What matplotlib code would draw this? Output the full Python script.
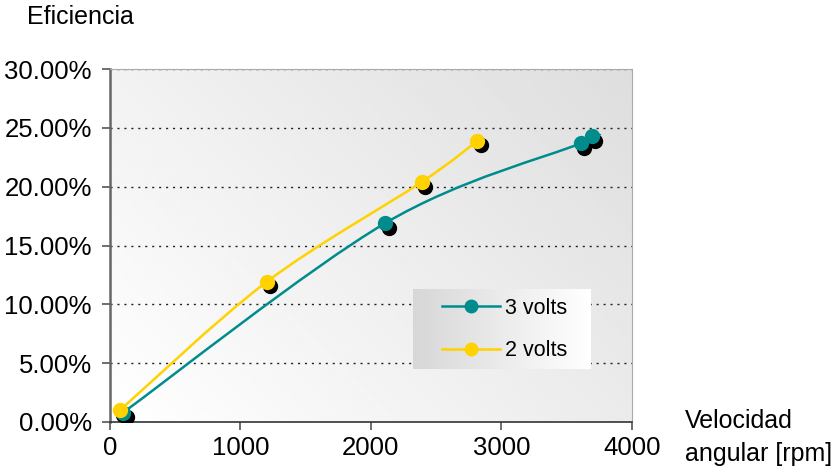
import numpy as np
import matplotlib
matplotlib.use("Agg")
import matplotlib.pyplot as plt
import matplotlib.transforms as mtransforms
from matplotlib.path import Path
from matplotlib.patches import PathPatch
from matplotlib.lines import Line2D

plt.rcParams["font.family"] = ["Liberation Sans", "DejaVu Sans"]

# data
rpm_3v = [100, 2110, 3610, 3695]
eff_3v = [0.008, 0.169, 0.237, 0.243]
rpm_2v = [76, 1200, 2390, 2817]
eff_2v = [0.010, 0.119, 0.204, 0.239]

series_names = ["3 volts", "2 volts"]
y_ticks = [0.0, 0.05, 0.10, 0.15, 0.20, 0.25, 0.30]
x_ticks = [0, 1000, 2000, 3000, 4000]

TEAL = "#008c8c"
YELLOW = "#ffd200"


def smooth_path(xs, ys):
    # bezier segments through the points, like Excel's smoothed line
    pts = np.column_stack([xs, ys]).astype(float)
    n = len(pts)
    verts = [pts[0]]
    codes = [Path.MOVETO]
    for i in range(n - 1):
        p0 = pts[max(i - 1, 0)]
        p1 = pts[i]
        p2 = pts[i + 1]
        p3 = pts[min(i + 2, n - 1)]
        c1 = p1 + (p2 - p0) / 6
        c2 = p2 - (p3 - p1) / 6
        verts += [c1, c2, p2]
        codes += [Path.CURVE4] * 3
    return Path(verts, codes)


fig = plt.figure(figsize=(8.36, 4.75), dpi=100)
ax = fig.add_axes([0.1316, 0.1116, 0.624, 0.743])

# gradient background: white bottom-left to grey top-right
gx, gy = np.meshgrid(np.linspace(0, 1, 200), np.linspace(0, 1, 200))
g = (gx * 0.6 + gy * 0.4)
bg = 1.0 - 0.13 * g
ax.imshow(bg, cmap="gray", vmin=0, vmax=1, extent=[0, 1, 0, 1],
          transform=ax.transAxes, origin="lower", aspect="auto", zorder=0)

ax.set_xlim(0, 4000)
ax.set_ylim(0, 0.30)

for y in y_ticks[1:]:
    ax.axhline(y, color="#222222", lw=1.0, ls=(0, (1.5, 3.5)), zorder=1)

shadow = mtransforms.offset_copy(ax.transData, fig=fig, x=3.5, y=-4.5, units="dots")

for xs, ys, col in [(rpm_3v, eff_3v, TEAL), (rpm_2v, eff_2v, YELLOW)]:
    ax.add_patch(PathPatch(smooth_path(xs, ys), fc="none", ec=col, lw=1.8, zorder=2))
    ax.plot(xs, ys, ls="none", marker="o", ms=10, mfc="black", mec="black",
            transform=shadow, zorder=3)
    ax.plot(xs, ys, ls="none", marker="o", ms=10, mfc=col, mec=col, zorder=4)

ax.set_xticks(x_ticks)
ax.set_xticklabels([str(v) for v in x_ticks])
ax.set_yticks(y_ticks)
ax.set_yticklabels([f"{v * 100:.2f}%" for v in y_ticks])
ax.tick_params(axis="both", direction="out", length=6, width=1.2,
               color="#555555", labelsize=18.5)
ax.tick_params(axis="x", pad=4)
ax.tick_params(axis="y", pad=7)

ax.spines["left"].set_color("#666666")
ax.spines["left"].set_linewidth(1.8)
ax.spines["bottom"].set_color("#333333")
ax.spines["bottom"].set_linewidth(1.2)
ax.spines["top"].set_color("#aaaaaa")
ax.spines["right"].set_color("#aaaaaa")

# legend with a grey-to-white gradient box
lx0, ly0, lw, lh = 0.580, 0.150, 0.341, 0.224
lgx = np.linspace(0, 1, 200)[None, :].repeat(20, axis=0)
ax.imshow(0.84 + 0.16 * lgx, cmap="gray", vmin=0, vmax=1,
          extent=[lx0, lx0 + lw, ly0, ly0 + lh], transform=ax.transAxes,
          aspect="auto", zorder=5)
handles = [Line2D([], [], color=TEAL, lw=1.8, marker="o", ms=9),
           Line2D([], [], color=YELLOW, lw=1.8, marker="o", ms=9)]
leg = ax.legend(handles, series_names, loc="center",
                bbox_to_anchor=(lx0 + lw / 2 + 0.006, ly0 + lh / 2),
                bbox_transform=ax.transAxes, frameon=False, fontsize=15.5,
                handlelength=2.7, labelspacing=1.0, handletextpad=0.25)
leg.set_zorder(6)

fig.text(0.032, 0.964, "Eficiencia", fontsize=18, ha="left", va="center")
fig.text(0.819, 0.079, "Velocidad\nangular [rpm]", fontsize=18,
         ha="left", va="center", linespacing=1.45)

fig.savefig("out.png", dpi=100)
